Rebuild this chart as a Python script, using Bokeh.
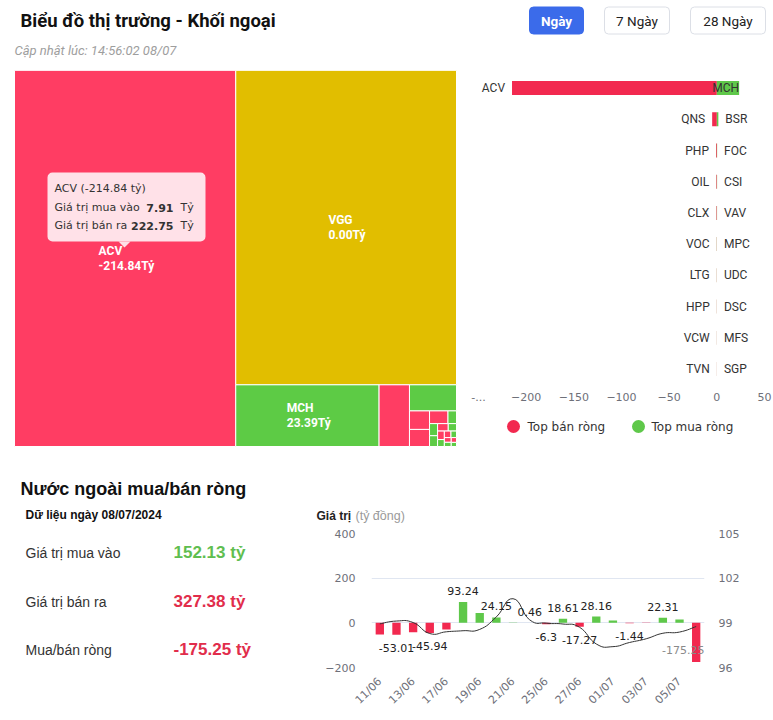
import math
from bokeh.plotting import figure
from bokeh.models import (Range1d, LinearAxis, FixedTicker, ColumnDataSource)
from bokeh.layouts import row, column
from bokeh.embed import file_html
from bokeh.resources import INLINE
from bokeh.core.properties import value

# ---------------- data ----------------
page_title = "Biểu đồ thị trường - Khối ngoại"
update_text = "Cập nhật lúc: 14:56:02 08/07"
period_buttons = ["Ngày", "7 Ngày", "28 Ngày"]
active_button = "Ngày"

stock_names = ["ACV", "VGG", "MCH", "QNS", "BSR", "PHP", "OIL", "CLX", "FOC", "CSI",
               "VAV", "VOC", "MPC", "LTG", "UDC", "HPP", "DSC", "VCW", "MFS", "TVN", "SGP"]
stock_buy = [7.91, 96.20, 23.95, 0.15, 2.50, 0.08, 0.15, 0.05, 0.30, 0.27,
             0.24, 0.02, 0.17, 0.01, 0.13, 0.00, 0.10, 0.00, 0.08, 0.00, 0.06]
stock_sell = [222.75, 96.20, 0.56, 5.05, 0.90, 0.95, 0.80, 0.60, 0.00, 0.00,
              0.00, 0.20, 0.00, 0.15, 0.00, 0.12, 0.00, 0.09, 0.00, 0.07, 0.00]
tooltip_stock = "ACV"

legend_labels = ["Top bán ròng", "Top mua ròng"]
bar_ticks = [-250, -200, -150, -100, -50, 0, 50]

section_title = "Nước ngoài mua/bán ròng"
data_date = "Dữ liệu ngày 08/07/2024"
summary_labels = ["Giá trị mua vào", "Giá trị bán ra", "Mua/bán ròng"]
total_buy = 152.13
total_sell = 327.38

flow_dates = ["11/06", "12/06", "13/06", "14/06", "17/06", "18/06", "19/06", "20/06",
              "21/06", "24/06", "25/06", "26/06", "27/06", "28/06", "01/07", "02/07",
              "03/07", "04/07", "05/07", "08/07"]
flow_net = [-52.60, -53.01, -42.10, -45.94, -30.20, 93.24, 43.50, 24.15, 1.50, 0.46,
            -6.30, 18.61, -17.27, 28.16, 10.40, -1.44, -0.90, 22.31, 15.20, -175.25]
flow_index = [98.93, 99.12, 99.02, 98.28, 98.40, 98.47, 98.56, 99.40, 100.62, 99.20,
              98.98, 98.92, 98.70, 97.58, 97.40, 97.68, 97.93, 98.30, 98.38, 98.75]
flow_labeled = [1, 3, 5, 7, 9, 10, 11, 12, 13, 15, 17, 19]
value_ticks = [-200, 0, 200, 400]
index_ticks = [96, 99, 102, 105]
value_axis_title = ["Giá trị", "(tỷ đồng)"]

# ---------------- style ----------------
RED_TM = "#FF3D63"
GREEN_TM = "#5DCB45"
YELLOW_TM = "#E1BE00"
RED = "#F2294F"
GREEN = "#5FC84A"
AXIS_GRAY = "#6E7079"
W = 773


def blank_fig(w, h, **kw):
    return figure(width=w, height=h, x_range=Range1d(0, w), y_range=Range1d(h, 0),
                  toolbar_location=None, output_backend="svg", x_axis_type=None,
                  y_axis_type=None, min_border=0, outline_line_color=None, **kw)


def style_axis(ax, standoff):
    ax.axis_line_color = None
    ax.major_tick_line_color = None
    ax.minor_tick_line_color = None
    ax.major_tick_out = 0
    ax.major_tick_in = 0
    ax.minor_tick_out = 0
    ax.major_label_text_font = "DejaVu Sans"
    ax.major_label_text_font_size = "11px"
    ax.major_label_text_color = AXIS_GRAY
    ax.major_label_standoff = standoff


# ---------------- header ----------------
hdr = blank_fig(W, 70)
hdr.text(x=[20], y=[20], text=[page_title], text_font=value("Roboto"),
         text_font_style="bold", text_font_size="18.5px", text_color="#111",
         text_baseline="middle")
hdr.text(x=[14], y=[50], text=[update_text], text_font=value("Roboto"),
         text_font_style="italic", text_font_size="13px", text_color="#9E9E9E",
         text_baseline="middle")
btn_left = [529, 604, 690]
btn_right = [583, 669, 765]
is_active = [b == active_button for b in period_buttons]
btn_src = ColumnDataSource(dict(
    l=btn_left, r=btn_right, cx=[(a + b) / 2 for a, b in zip(btn_left, btn_right)],
    t=period_buttons,
    fill=["#3B6BEA" if a else "#FFFFFF" for a in is_active],
    line=["#3B6BEA" if a else "#DCDFE6" for a in is_active],
    tc=["#FFFFFF" if a else "#222222" for a in is_active],
    st=["bold" if a else "normal" for a in is_active]))
hdr.quad(left="l", right="r", top=6.5, bottom=33.5, fill_color="fill", line_color="line",
         border_radius=4, source=btn_src)
hdr.text(x="cx", y=20, text="t", text_color="tc", text_font_style="st",
         text_font=value("Roboto"), text_font_size="13.5px", text_align="center",
         text_baseline="middle", source=btn_src)

# ---------------- treemap ----------------
def _worst(r, side):
    s = sum(r)
    return max(side * side * max(r) / (s * s), s * s / (side * side * min(r)))


def squarify(areas, x, y, w, h):
    rects = []
    i, n = 0, len(areas)
    while i < n:
        side = min(w, h)
        cur = [areas[i]]
        i += 1
        best = _worst(cur, side)
        while i < n:
            cand = cur + [areas[i]]
            sc = _worst(cand, side)
            if sc <= best:
                cur, best = cand, sc
                i += 1
            else:
                break
        s = sum(cur)
        if w >= h:
            cw = s / h
            yy = y
            for a in cur:
                rects.append((x, yy, cw, a / cw))
                yy += a / cw
            x += cw
            w -= cw
        else:
            rh = s / w
            xx = x
            for a in cur:
                rects.append((xx, y, a / rh, rh))
                xx += a / rh
            y += rh
            h -= rh
    return rects


net = [b - s for b, s in zip(stock_buy, stock_sell)]
size = [b + s for b, s in zip(stock_buy, stock_sell)]
order = sorted(range(len(size)), key=lambda i: -size[i])
TX, TY, TW, TH = 14, 0, 442, 376
tot = sum(size)
rects = squarify([size[i] / tot * TW * TH for i in order], TX, TY, TW, TH)

tm = blank_fig(460, 390)
cols = []
for i in order:
    if abs(net[i]) < 0.005:
        cols.append(YELLOW_TM)
    elif net[i] < 0:
        cols.append(RED_TM)
    else:
        cols.append(GREEN_TM)
tm_src = ColumnDataSource(dict(
    l=[r[0] for r in rects], r=[r[0] + r[2] for r in rects],
    t=[r[1] for r in rects], b=[r[1] + r[3] for r in rects], c=cols))
tm.quad(left="l", right="r", top="t", bottom="b", fill_color="c", line_color="white",
        line_width=1, source=tm_src)

lx, ly, lt = [], [], []
for k, i in enumerate(order):
    x, y, w, h = rects[k]
    if w >= 60 and h >= 30:
        vtxt = f"{net[i]:.2f}Tỷ"
        est = 5.9 * len(vtxt)
        left = x + w / 2 - est / 2
        lx += [left, left]
        ly += [y + h / 2 - 7.5, y + h / 2 + 7.5]
        lt += [stock_names[i], vtxt]
tm.text(x=lx, y=ly, text=lt, text_color="white", text_font=value("Roboto"),
        text_font_style="bold", text_font_size="12px", text_baseline="middle")

# tooltip (static, as in the screenshot)
ti = stock_names.index(tooltip_stock)
tm.quad(left=[47], right=[205], top=[102], bottom=[171], fill_color="#FFE1E8",
        line_color=None, border_radius=5)
tm.patch(x=[118, 130, 124], y=[171, 171, 177], fill_color="#FFE1E8", line_color=None)
tip_font = value("DejaVu Sans")
tm.text(x=[54, 54, 54], y=[118, 137, 155],
        text=[f"{tooltip_stock} ({net[ti]:.2f} tỷ)", "Giá trị mua vào", "Giá trị bán ra"],
        text_color="#333", text_font=tip_font, text_font_size="11px", text_baseline="middle")
tm.text(x=[173, 173], y=[137, 155], text=[f"{stock_buy[ti]:.2f}", f"{stock_sell[ti]:.2f}"],
        text_color="#333", text_font=tip_font, text_font_style="bold", text_font_size="11px",
        text_align="right", text_baseline="middle")
tm.text(x=[180, 180], y=[137, 155], text=["Tỷ", "Tỷ"], text_color="#333", text_font=tip_font,
        text_font_size="11px", text_baseline="middle")

# ---------------- top buy / sell bars ----------------
sellers = sorted([i for i in range(len(net)) if net[i] < 0], key=lambda i: net[i])[:10]
buyers = sorted([i for i in range(len(net)) if net[i] > 0], key=lambda i: -net[i])[:10]
BFW = 286
bar = figure(frame_width=BFW, frame_height=312, x_range=Range1d(bar_ticks[0], bar_ticks[-1]),
             y_range=Range1d(9.5, -0.5), min_border_left=18, min_border_right=9,
             min_border_top=2, min_border_bottom=0, y_axis_type=None,
             toolbar_location=None, output_backend="svg", outline_line_color=None)
bar.grid.visible = False
rows_s = list(range(len(sellers)))
rows_b = list(range(len(buyers)))
bar.hbar(y=rows_s, left=[net[i] for i in sellers], right=0, height=0.45,
         fill_color=RED, line_color=None)
bar.hbar(y=rows_b, left=0, right=[net[i] for i in buyers], height=0.45,
         fill_color=GREEN, line_color=None)
bar.text(x=[net[i] for i in sellers], y=rows_s, text=[stock_names[i] for i in sellers],
         x_offset=-7, text_align="right", text_baseline="middle", text_color="#333",
         text_font=value("Roboto"), text_font_size="12px")
ppu = BFW / (bar_ticks[-1] - bar_ticks[0])
bx, bal, boff = [], [], []
for i in buyers:
    bx.append(net[i])
    if (net[i] * ppu + 7 + 9 * len(stock_names[i])) > bar_ticks[-1] * ppu:
        bal.append("right"); boff.append(0)
    else:
        bal.append("left"); boff.append(7)
bar.text(x=bx, y=rows_b, text=[stock_names[i] for i in buyers], x_offset=boff,
         text_align=bal, text_baseline="middle", text_color="#333",
         text_font=value("Roboto"), text_font_size="12px")
xa = bar.xaxis[0]
xa.ticker = FixedTicker(ticks=bar_ticks)
xa.major_label_overrides = {bar_ticks[0]: "-..."}
style_axis(xa, 8)

# legend strip below the bar chart (same frame as the bar chart)
LGH = 52
lg = figure(frame_width=BFW, frame_height=LGH, min_border_left=18, min_border_right=9,
            min_border_top=0, min_border_bottom=0, x_range=Range1d(0, BFW),
            y_range=Range1d(LGH, 0), toolbar_location=None, output_backend="svg",
            x_axis_type=None, y_axis_type=None, outline_line_color=None)
lg.scatter(x=[35, 160], y=[23, 23], marker="circle", size=13,
           fill_color=[RED, GREEN], line_color=None)
lg.text(x=[49, 173], y=[23, 23], text=legend_labels, text_font=value("DejaVu Sans"),
        text_font_size="12px", text_color="#333", text_baseline="middle")

# ---------------- summary ----------------
st = blank_fig(300, 260)
st.text(x=[20], y=[28], text=[section_title], text_font=value("Liberation Sans"),
        text_font_style="bold", text_font_size="18px", text_color="#111", text_baseline="middle")
st.text(x=[25], y=[54], text=[data_date], text_font=value("Liberation Sans"),
        text_font_style="bold", text_font_size="12px", text_color="#111", text_baseline="middle")
sum_vals = [total_buy, total_sell, total_buy - total_sell]
sum_cols = ["#5FBE50", "#E12D4B", "#E12D4B"]
st.text(x=[25] * 3, y=[92, 141, 189], text=summary_labels, text_font=value("Liberation Sans"),
        text_font_size="14px", text_color="#333", text_baseline="middle")
st.text(x=[173] * 3, y=[92, 141, 189], text=[f"{v:.2f} tỷ" for v in sum_vals],
        text_font=value("Liberation Sans"), text_font_style="bold", text_font_size="17px",
        text_color=sum_cols, text_baseline="middle")

# ---------------- combo chart ----------------
ttl = blank_fig(473, 64)
ttl.text(x=[16], y=[55], text=[value_axis_title[0]], text_font=value("Liberation Sans"),
         text_font_style="bold", text_font_size="12px", text_color="#222",
         text_baseline="middle")
ttl.text(x=[55], y=[55], text=[value_axis_title[1]], text_font=value("Liberation Sans"),
         text_font_size="12.5px", text_color="#9A9A9A", text_baseline="middle")

n = len(flow_dates)
xs = list(range(n))
FH = 134
cmb = figure(frame_width=333, frame_height=FH, min_border_left=71, min_border_right=69,
             min_border_top=9, min_border_bottom=53, x_range=Range1d(-0.5, n - 0.5),
             y_range=Range1d(value_ticks[0], value_ticks[-1]), toolbar_location=None,
             output_backend="svg", outline_line_color=None)
cmb.extra_y_ranges = {"idx": Range1d(index_ticks[0], index_ticks[-1])}
cmb.add_layout(LinearAxis(y_range_name="idx", ticker=FixedTicker(ticks=index_ticks)), "right")
cmb.xgrid.visible = False
cmb.ygrid.ticker = FixedTicker(ticks=value_ticks)
cmb.ygrid.grid_line_color = "#E0E6F1"
cmb.yaxis[0].ticker = FixedTicker(ticks=value_ticks)
cmb.xaxis.ticker = FixedTicker(ticks=list(range(0, n, 2)))
cmb.xaxis.major_label_overrides = {i: flow_dates[i] for i in range(0, n, 2)}
cmb.xaxis.major_label_orientation = math.pi / 4
style_axis(cmb.yaxis[0], 16)
style_axis(cmb.yaxis[1], 14)
style_axis(cmb.xaxis[0], 12)

cmb.vbar(x=xs, top=flow_net, bottom=0, width=0.5,
         fill_color=[GREEN if v >= 0 else RED for v in flow_net], line_color=None)

# smooth index line
pts = list(zip(xs, flow_index))
K = 0.25
b = dict(x0=[], y0=[], x1=[], y1=[], cx0=[], cy0=[], cx1=[], cy1=[])
for i in range(n - 1):
    p0 = pts[i - 1] if i > 0 else pts[i]
    p1, p2 = pts[i], pts[i + 1]
    p3 = pts[i + 2] if i + 2 < n else pts[i + 1]
    b["x0"].append(p1[0]); b["y0"].append(p1[1])
    b["x1"].append(p2[0]); b["y1"].append(p2[1])
    b["cx0"].append(p1[0] + (p2[0] - p0[0]) * K); b["cy0"].append(p1[1] + (p2[1] - p0[1]) * K)
    b["cx1"].append(p2[0] - (p3[0] - p1[0]) * K); b["cy1"].append(p2[1] - (p3[1] - p1[1]) * K)
cmb.bezier(source=ColumnDataSource(b), x0="x0", y0="y0", x1="x1", y1="y1", cx0="cx0",
           cy0="cy0", cx1="cx1", cy1="cy1", y_range_name="idx", line_color="#333",
           line_width=1)

vppu = FH / (value_ticks[-1] - value_ticks[0])
lab = dict(x=[], y=[], t=[], off=[])
inside = dict(x=[], y=[], t=[])
for i in flow_labeled:
    v = flow_net[i]
    t = f"{v:g}"
    if v >= 0:
        lab["x"].append(i); lab["y"].append(v); lab["t"].append(t); lab["off"].append(-11)
    elif (v - value_ticks[0]) * vppu < 20:
        inside["x"].append(n - 0.5); inside["y"].append(v); inside["t"].append(t)
    else:
        lab["x"].append(i); lab["y"].append(v); lab["t"].append(t); lab["off"].append(13)
cmb.text(x="x", y="y", text="t", y_offset="off", source=ColumnDataSource(lab),
         text_align="center", text_baseline="middle", text_color="#222",
         text_font=value("DejaVu Sans"), text_font_size="11px")
cmb.text(x=inside["x"], y=inside["y"], text=inside["t"], y_offset=-12, text_align="right",
         text_baseline="middle", text_color="#8A8A8A",
         text_font=value("DejaVu Sans"), text_font_size="11px")

layout = column(hdr,
                row(tm, column(bar, lg)),
                row(column(st), column(ttl, column(cmb))))
open("out.html", "w").write(file_html(layout, INLINE))
